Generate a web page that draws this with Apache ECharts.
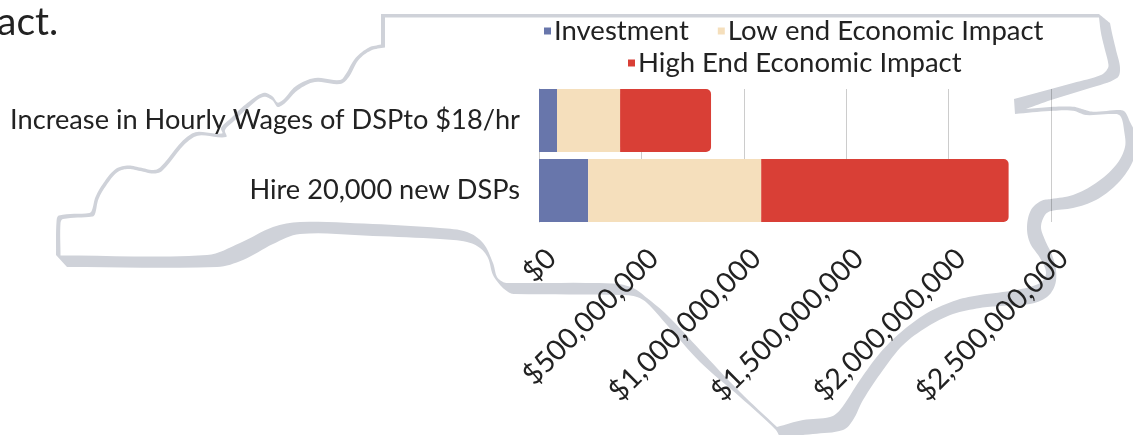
<!DOCTYPE html>
<html>
<head>
<meta charset="utf-8">
<style>
  html, body { margin: 0; padding: 0; background: #fff; }
  #main { width: 1133px; height: 435px; }
</style>
<script src="https://cdn.jsdelivr.net/npm/echarts@6/dist/echarts.min.js"></script>
</head>
<body>
<div id="main"></div>
<script>
var categories = ['Increase in Hourly Wages of DSPto $18/hr', 'Hire 20,000 new DSPs']
var investment = [88000000, 240000000]
var lowEnd = [308000000, 845000000]
var highEnd = [444000000, 1208000000]
var tickStep = 500000000
var tickMax = 2500000000

var fontName = 'Lato'
var textColor = '#222'

// backdrop state outline (not data)
var outlineOuter = [
  [381, 14], [381, 14], [1099, 14], [1099, 14], [1110, 23], [1110, 23], [1112, 33], [1116, 50], [1120, 68], [1117, 78],
  [1090, 88], [1051, 100], [1026, 109], [1026, 109], [1050, 107], [1073, 106.7], [1083, 109.3], [1093, 111.7],
  [1120, 110], [1125, 112], [1130, 122], [1136, 135], [1136, 150], [1130, 167], [1116, 185], [1096, 200],
  [1073, 208], [1051, 211], [1045, 215], [1041, 227], [1045, 240], [1052, 255], [1056, 270], [1055, 285],
  [1047, 297], [1030, 304], [1000, 306], [980, 308], [953, 314], [927, 327], [903, 345], [883, 370], [863, 400],
  [853, 420], [843, 430], [813, 434], [780, 437], [780, 437], [775, 429], [740, 397], [700, 362], [667, 325],
  [647, 303], [637, 297], [623, 295], [515, 294], [510, 293], [502, 287], [493, 275], [488, 258], [480, 248],
  [467, 242], [440, 239], [373, 236], [300, 234], [273, 244], [243, 260], [217, 267], [67, 267], [67, 267],
  [56, 255], [56, 255], [56.5, 222], [59, 215.5], [89.5, 213], [92, 210], [95.5, 197], [103.5, 183], [115, 169.5],
  [127, 165.5], [140, 167.5], [153, 170], [160, 167.5], [192, 133.5], [222, 133.5], [221, 128], [230.5, 118.5],
  [245.5, 104.5], [263, 93], [272, 96], [279, 102.5], [296, 86], [315, 78], [340, 80], [345.5, 74.5], [355.5, 58],
  [369, 47.5], [381, 44.5], [381, 44.5]
]
var outlineInner = [
  [385, 17.5], [385, 17.5], [1099, 17.5], [1099, 17.5], [1101, 33], [1105, 50], [1108, 62], [1108, 68], [1101, 75], [1073, 83],
  [1051, 89], [1014, 99], [1014, 99], [1015, 114], [1015, 114], [1050, 111], [1073, 110.7], [1086, 115], [1116, 114],
  [1121, 117], [1124, 130], [1125, 147], [1116, 165], [1096, 183], [1073, 195], [1051, 199], [1041, 201], [1031, 210],
  [1027, 227], [1030, 243], [1040, 258], [1046, 273], [1040, 283], [1016, 290], [980, 295], [957, 300], [927, 313],
  [900, 333], [880, 353], [860, 380], [840, 410], [830, 417], [803, 420], [777, 427], [777, 427], [740, 392],
  [700, 350], [667, 315], [647, 298], [633, 288], [613, 283.5], [507, 283], [503, 282], [497, 277], [493, 263],
  [483, 243], [467, 232], [440, 228], [373, 224], [300, 222], [273, 227], [240, 243], [207, 255], [60.5, 255.5],
  [60.5, 255.5], [60.5, 223], [63, 219], [92.5, 216.5], [95, 214], [98.5, 199], [106.5, 185], [117, 172.5],
  [127, 169], [140, 171], [153, 173.5], [162, 171], [194, 137], [226, 137], [225, 130], [233.5, 121.5], [248.5, 107.5],
  [263, 97], [272, 100], [279, 107], [298, 90], [315, 82], [340, 84], [348.5, 77.5], [358.5, 60], [371, 50.5],
  [385, 47.5], [385, 47.5]
]

function unit(a, b) {
  var dx = b[0] - a[0], dy = b[1] - a[1]
  var len = Math.sqrt(dx * dx + dy * dy) || 1
  return [dx / len, dy / len]
}

// bezier through the traced points, handles scaled to each segment so long
// straight runs do not overshoot; a doubled point stays a corner
function roundOutline(pts) {
  var out = []
  var n = pts.length
  for (var i = 0; i < n; i++) {
    var p0 = pts[(i + n - 1) % n], p1 = pts[i], p2 = pts[(i + 1) % n], p3 = pts[(i + 2) % n]
    var len = Math.sqrt(Math.pow(p2[0] - p1[0], 2) + Math.pow(p2[1] - p1[1], 2))
    if (!len) { out.push(p1); continue }
    var d1 = (p0[0] === p1[0] && p0[1] === p1[1]) ? unit(p1, p2) : unit(p0, p2)
    var d2 = (p2[0] === p3[0] && p2[1] === p3[1]) ? unit(p1, p2) : unit(p1, p3)
    var c1 = [p1[0] + d1[0] * len / 3, p1[1] + d1[1] * len / 3]
    var c2 = [p2[0] - d2[0] * len / 3, p2[1] - d2[1] * len / 3]
    for (var t = 0; t < 1; t += 0.125) {
      var u = 1 - t
      out.push([0, 1].map(function (k) {
        return u * u * u * p1[k] + 3 * u * u * t * c1[k] + 3 * u * t * t * c2[k] + t * t * t * p2[k]
      }))
    }
  }
  return out
}

function money(v) {
  return '$' + v.toString().replace(/\B(?=(\d{3})+$)/g, ',')
}

var legendText = { fontFamily: fontName, fontWeight: 400, fontSize: 27.5, color: textColor, padding: [0, 0, 0, -2] }

var myChart = echarts.init(document.getElementById('main'), null, { renderer: 'canvas' })
myChart.setOption({
  animation: false,
  backgroundColor: '#fff',
  graphic: {
    elements: [
      { type: 'polygon', z: -20, silent: true, shape: { points: roundOutline(outlineOuter) }, style: { fill: '#cfd2d9' } },
      { type: 'polygon', z: -19, silent: true, shape: { points: roundOutline(outlineInner) }, style: { fill: '#fff' } },
      {
        type: 'text', left: -3, top: 3, z: 5, silent: true,
        style: { text: 'act.', fontFamily: fontName, fontWeight: 400, fontSize: 39, fill: textColor }
      }
    ]
  },
  legend: [
    {
      left: 544, top: 17, padding: 0, itemWidth: 7, itemHeight: 7, itemGap: 29, icon: 'rect',
      data: ['Investment', 'Low end Economic Impact'], textStyle: legendText
    },
    {
      left: 628, top: 49, padding: 0, itemWidth: 7, itemHeight: 7, icon: 'rect',
      data: ['High End Economic Impact'], textStyle: legendText
    }
  ],
  grid: [
    { left: 539, right: 82, top: 85.5, height: 140 },
    // gridlines stop at the outer bar edges, so they get their own shorter grid
    { left: 539, right: 82, top: 89, height: 133 }
  ],
  xAxis: [
    {
      type: 'value',
      min: 0,
      max: tickMax,
      interval: tickStep,
      axisLine: { show: false },
      axisTick: { show: false },
      splitLine: { show: false },
      axisLabel: {
        rotate: 45,
        margin: 16,
        align: 'right',
        verticalAlign: 'top',
        padding: [3, 0, 0, 0],
        fontFamily: fontName,
        fontWeight: 400,
        fontSize: 28.5,
        color: textColor,
        formatter: money
      }
    },
    {
      type: 'value',
      gridIndex: 1,
      min: 0,
      max: tickMax,
      interval: tickStep,
      axisLine: { show: false },
      axisTick: { show: false },
      axisLabel: { show: false },
      splitLine: { show: true, lineStyle: { color: 'rgba(0,0,0,0.2)', width: 1 } }
    }
  ],
  yAxis: [
    {
      type: 'category',
      inverse: true,
      data: categories,
      axisLine: { show: false },
      axisTick: { show: false },
      axisLabel: { margin: 19, fontFamily: fontName, fontWeight: 400, fontSize: 27.2, color: textColor, padding: [0, 0, 2, 0] }
    },
    {
      type: 'category',
      gridIndex: 1,
      inverse: true,
      data: categories,
      axisLine: { show: true, lineStyle: { color: '#c8c8c8' } },
      axisTick: { show: false },
      axisLabel: { show: false }
    }
  ],
  series: [
    { name: 'Investment', type: 'bar', stack: 'total', barWidth: 63, data: investment, itemStyle: { color: '#6876ab' } },
    { name: 'Low end Economic Impact', type: 'bar', stack: 'total', data: lowEnd, itemStyle: { color: '#f5dfbc' } },
    { name: 'High End Economic Impact', type: 'bar', stack: 'total', data: highEnd, itemStyle: { color: '#d93f36', borderRadius: [0, 5, 5, 0] } }
  ]
})
</script>
</body>
</html>
